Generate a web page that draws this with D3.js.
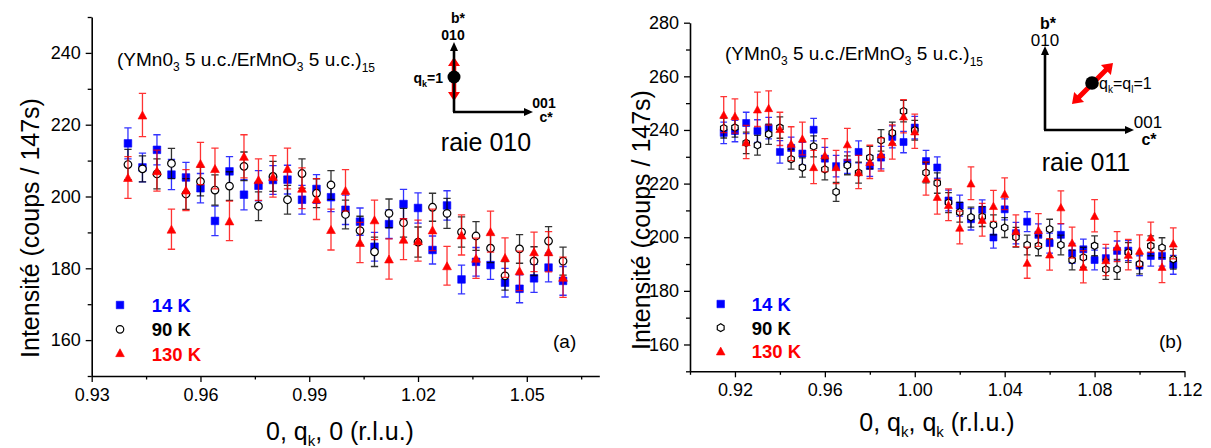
<!DOCTYPE html>
<html><head><meta charset="utf-8">
<script src="https://cdn.jsdelivr.net/npm/d3@7"></script>
<style>
body{margin:0;background:#fff;}
svg{display:block;font-family:"Liberation Sans",Arial,Helvetica,sans-serif;}
</style></head><body>
<svg id="c" width="1211" height="448"></svg>
<script>
// ---------- Panel (a): raie 010, x = 0, qk, 0 ----------
const qA = [0.940,0.944,0.948,0.952,0.956,0.960,0.964,0.968,0.972,0.976,0.980,0.984,0.988,0.992,0.996,1.000,1.004,1.008,1.012,1.016,1.020,1.024,1.028,1.032,1.036,1.040,1.044,1.048,1.052,1.056,1.060];
const a14K  = [214.8,208.1,213.0,206.1,205.3,202.3,193.2,207.0,200.5,203.0,204.6,204.7,199.1,202.1,199.8,196.3,193.0,186.0,192.3,197.9,196.8,185.1,197.5,176.9,181.8,180.9,176.0,174.3,177.2,180.2,176.5];
const a90K  = [208.9,207.7,206.3,209.2,200.7,204.2,201.8,202.9,208.4,197.3,205.6,199.1,206.4,200.9,203.2,195.0,190.5,184.6,195.3,192.7,187.3,197.0,195.3,190.1,189.0,185.6,177.9,185.4,182.0,187.6,182.0];
const a130K = [205.3,222.7,207.2,190.9,201.8,209.2,207.8,193.2,211.2,204.7,205.6,207.8,202.3,199.3,190.8,201.7,187.2,193.5,182.6,188.1,187.7,190.7,180.7,189.3,182.8,190.2,183.0,179.3,184.6,184.6,177.5];
const a14Kerr  = [4.3,4.0,4.2,4.2,4.2,4.1,4.1,4.1,4.2,4.2,4.0,4.0,4.0,4.0,4.0,4.1,3.8,4.0,4.0,4.1,4.2,3.9,4.1,4.0,4.0,4.0,4.0,3.9,3.9,4.0,4.0];
const a90Kerr  = [4.2,3.6,4.2,4.2,4.3,4.0,4.2,4.0,4.0,4.0,4.2,4.0,4.1,4.0,4.0,4.0,4.0,4.1,4.0,4.0,4.2,3.9,4.2,4.2,4.0,4.0,4.0,4.0,4.0,4.0,3.9];
const a130Kerr = [5.8,6.0,5.7,5.6,5.7,5.9,5.7,5.5,6.0,5.8,5.8,5.7,5.7,5.7,5.7,5.8,5.6,5.5,5.6,5.7,5.7,5.8,5.4,5.6,5.6,5.7,5.5,5.5,5.5,5.6,5.6];
const aXTicks = [0.93,0.96,0.99,1.02,1.05];
const aXMinor = [0.945,0.975,1.005,1.035,1.065];
const aYTicks = [160,180,200,220,240];
const aYMinor = [150,170,190,210,230,250];

// ---------- Panel (b): raie 011, x = 0, qk, qk ----------
const qB = [0.915,0.920,0.925,0.930,0.935,0.940,0.945,0.950,0.955,0.960,0.965,0.970,0.975,0.980,0.985,0.990,0.995,1.000,1.005,1.010,1.015,1.020,1.025,1.030,1.035,1.040,1.045,1.050,1.055,1.060,1.065,1.070,1.075,1.080,1.085,1.090,1.095,1.100,1.105,1.110,1.115];
const b14K  = [238.9,239.6,242.6,239.6,240.7,231.8,233.3,231.2,240.1,229.3,226.5,227.8,231.8,226.6,229.7,237.4,235.5,240.9,228.4,226.0,213.7,211.8,206.7,210.2,199.9,210.4,201.5,205.8,200.9,197.8,200.9,194.0,195.5,191.5,192.2,194.9,195.0,189.4,193.0,193.0,189.7];
const b90K  = [240.7,240.9,235.2,234.3,238.4,240.9,229.1,226.0,233.9,225.3,216.9,226.8,224.1,229.7,236.1,238.9,247.0,239.9,224.1,220.2,212.9,209.3,207.5,207.7,204.6,203.6,200.0,197.1,196.8,203.0,197.1,191.5,192.5,196.8,188.0,188.0,194.3,190.0,196.8,196.1,191.8];
const b130K = [245.7,245.2,235.5,247.7,248.2,240.4,234.9,236.8,226.2,230.6,226.2,234.7,224.3,228.1,230.9,235.5,245.1,239.5,221.9,215.1,212.1,203.6,220.1,206.5,211.7,216.2,202.4,190.5,202.7,193.6,211.2,198.0,189.0,208.0,191.5,196.5,193.5,195.0,200.0,189.0,197.7];
const b14Kerr  = [4.0,4.0,4.0,4.2,4.0,4.2,4.0,4.2,4.2,4.2,4.0,4.0,4.1,3.9,4.2,4.1,4.0,4.2,4.0,4.0,3.9,3.9,4.0,3.7,4.0,3.9,4.0,3.7,4.1,3.7,4.1,3.7,3.8,3.7,3.7,3.7,3.7,3.7,3.8,3.8,3.5];
const b90Kerr  = [3.7,3.6,4.0,3.7,3.8,4.0,3.7,3.6,3.9,3.9,3.5,3.5,3.9,4.2,4.0,4.0,4.0,3.7,3.8,3.8,3.7,3.7,3.7,3.7,3.7,3.7,3.7,3.7,3.7,3.7,3.7,3.7,3.7,3.7,3.7,3.7,3.7,3.7,3.7,3.7,3.7];
const b130Kerr = [6.7,6.4,6.2,6.4,6.4,6.2,6.3,6.1,6.2,6.2,6.2,5.9,6.2,6.2,6.2,6.4,6.2,6.4,6.2,6.5,5.9,6.1,6.1,6.1,5.8,5.9,5.9,5.8,6.1,5.9,6.1,5.8,6.0,6.0,5.8,5.6,5.7,5.9,5.6,5.9,5.8];
const bXTicks = [0.92,0.96,1.00,1.04,1.08,1.12];
const bXMinor = [0.90,0.94,0.98,1.02,1.06,1.10];
const bYTicks = [160,180,200,220,240,260,280];
const bYMinor = [150,170,190,210,230,250,270];

const legendLabels = ["14 K","90 K","130 K"];
const BLUE = "#0000ff", RED = "#ff0000", BLACK = "#000000";

const svg = d3.select("#c");

// ---------- marker shapes ----------
function triPath(s){ const w=s*0.55, h=s*0.5; return `M0,${-h}L${w},${h}L${-w},${h}Z`; }
function sqPath(s){ const h=s/2; return `M${-h},${-h}H${h}V${h}H${-h}Z`; }
function hexPath(s){ const r=s/2; let p=""; for(let i=0;i<6;i++){const a=Math.PI/2+i*Math.PI/3; p+=(i?"L":"M")+(r*Math.cos(a)).toFixed(2)+","+(-r*Math.sin(a)).toFixed(2);} return p+"Z"; }
function circPath(s){ const r=s/2; return `M${r},0A${r},${r} 0 1,1 ${-r},0A${r},${r} 0 1,1 ${r},0Z`; }

function drawMarker(g, kind, x, y, s){
  let d, fill, stroke;
  if(kind==="sq"){ d=sqPath(s); fill=BLUE; stroke=BLUE; }
  else if(kind==="tri"){ d=triPath(s*1.05); fill=RED; stroke=RED; }
  else if(kind==="circ"){ d=circPath(s); fill="#fff"; stroke=BLACK; }
  else { d=hexPath(s*1.05); fill="#fff"; stroke=BLACK; }
  g.append("path").attr("d",d).attr("transform",`translate(${x},${y})`)
    .attr("fill",fill).attr("stroke",stroke).attr("stroke-width",kind==="circ"||kind==="hex"?1.2:0.6);
}

function panel(cfg){
  const x = d3.scaleLinear().domain(cfg.xd).range(cfg.xr);
  const y = d3.scaleLinear().domain(cfg.yd).range(cfg.yr);
  const g = svg.append("g");

  // axes
  const gxm = g.append("g").attr("transform",`translate(0,${cfg.yr[0]})`)
    .call(d3.axisBottom(x).tickValues(cfg.xMinor).tickSize(3.5).tickSizeOuter(0).tickFormat(""));
  gxm.select(".domain").remove();
  const gx = g.append("g").attr("transform",`translate(0,${cfg.yr[0]})`)
    .call(d3.axisBottom(x).tickValues(cfg.xTicks).tickSize(6).tickSizeOuter(0).tickPadding(6).tickFormat(d3.format(".2f")));
  const gym = g.append("g").attr("transform",`translate(${cfg.xr[0]},0)`)
    .call(d3.axisLeft(y).tickValues(cfg.yMinor).tickSize(4).tickSizeOuter(0).tickFormat(""));
  gym.select(".domain").remove();
  const gy = g.append("g").attr("transform",`translate(${cfg.xr[0]},0)`)
    .call(d3.axisLeft(y).tickValues(cfg.yTicks).tickSize(6).tickSizeOuter(0).tickPadding(5).tickFormat(d3.format("d")));
  g.selectAll(".domain").attr("stroke","#000").attr("stroke-width",1.6);
  g.selectAll(".tick line").attr("stroke","#000").attr("stroke-width",1.3);
  g.selectAll(".tick text").attr("font-size",18).attr("fill","#000").attr("font-family",'"Liberation Sans",Arial,sans-serif');

  // data
  const cap = cfg.cap;
  cfg.series.forEach(s=>{
    const sg = g.append("g");
    cfg.q.forEach((q,i)=>{
      const cx=x(q), v=s.v[i], e=s.e[i];
      const y1=y(v+e), y2=y(v-e);
      sg.append("path").attr("d",`M${cx},${y1}V${y2}M${cx-cap/2},${y1}H${cx+cap/2}M${cx-cap/2},${y2}H${cx+cap/2}`)
        .attr("stroke",s.col).attr("stroke-width",1.3).attr("stroke-opacity",0.8).attr("fill","none");
    });
    cfg.q.forEach((q,i)=> drawMarker(sg, s.m, x(q), y(s.v[i]), cfg.ms));
  });

  // legend
  cfg.series.forEach((s,i)=>{
    drawMarker(g, s.m, cfg.leg.mx, cfg.leg.my[i], 7.5);
    g.append("text").attr("x",cfg.leg.tx).attr("y",cfg.leg.ty[i]).attr("font-size",18.5)
      .attr("font-weight","bold").attr("fill",s.col).text(legendLabels[i]);
  });
  g.append("text").attr("x",cfg.tag.x).attr("y",cfg.tag.y).attr("font-size",19).attr("fill","#000").text(cfg.tag.t);

  // axis titles
  const xt = g.append("text").attr("x",cfg.xtitle.x).attr("y",cfg.xtitle.y).attr("text-anchor","middle").attr("font-size",25).attr("fill","#000");
  cfg.xtitle.parts.forEach(p=>{ const t=xt.append("tspan").text(p[0]); if(p[1]) t.attr("font-size",15).attr("dy",6); else t.attr("dy",p[2]||0); });
  g.append("text").attr("transform",`translate(${cfg.ytitle.x},${cfg.ytitle.y}) rotate(-90)`)
    .attr("text-anchor","middle").attr("font-size",25).attr("fill","#000").text("Intensité (coups / 147s)");

  // compound label
  const ct = g.append("text").attr("x",cfg.comp.x).attr("y",cfg.comp.y).attr("font-size",19).attr("fill","#000");
  ct.append("tspan").text("(YMn0");
  ct.append("tspan").attr("font-size",12).attr("dy",5).text("3");
  ct.append("tspan").attr("dy",-5).text(" 5 u.c./ErMnO");
  ct.append("tspan").attr("font-size",12).attr("dy",5).text("3");
  ct.append("tspan").attr("dy",-5).text(" 5 u.c.)");
  ct.append("tspan").attr("font-size",12).attr("dy",6).text("15");
  return g;
}

const pa = panel({
  q:qA, xd:[0.93,1.07], xr:[91.7,599.3], yd:[150,250], yr:[376,17],
  xTicks:aXTicks, xMinor:aXMinor, yTicks:aYTicks, yMinor:aYMinor, cap:7.3, ms:7.6,
  series:[{v:a14K,e:a14Kerr,col:BLUE,m:"sq"},{v:a90K,e:a90Kerr,col:BLACK,m:"circ"},{v:a130K,e:a130Kerr,col:RED,m:"tri"}],
  leg:{mx:120, my:[305,329.3,352.7], tx:151.7, ty:[311.5,336,360.5]},
  tag:{x:553,y:348,t:"(a)"},
  xtitle:{x:340,y:440,parts:[["0, q"],["k",1],[", 0 (r.l.u.)",0,-6]]},
  ytitle:{x:39,y:228},
  comp:{x:117,y:66}
});
const pb = panel({
  q:qB, xd:[0.90,1.12], xr:[690,1184.5], yd:[150,280], yr:[371.3,22.7],
  xTicks:bXTicks, xMinor:bXMinor, yTicks:bYTicks, yMinor:bYMinor, cap:6.7, ms:7,
  series:[{v:b14K,e:b14Kerr,col:BLUE,m:"sq"},{v:b90K,e:b90Kerr,col:BLACK,m:"hex"},{v:b130K,e:b130Kerr,col:RED,m:"tri"}],
  leg:{mx:720.7, my:[304,327.7,351], tx:751.7, ty:[310.5,334.5,358]},
  tag:{x:1159,y:348,t:"(b)"},
  xtitle:{x:937,y:431,parts:[["0, q"],["k",1],[", q",0,-6],["k",1],[" (r.l.u.)",0,-6]]},
  ytitle:{x:650,y:220},
  comp:{x:725,y:60}
});

// ---------- insets ----------
function fatArrow(x1,y1,x2,y2,sw,hw,hl){
  const dx=x2-x1, dy=y2-y1, L=Math.hypot(dx,dy), ux=dx/L, uy=dy/L, nx=-uy, ny=ux;
  const P=(t,n)=>[x1+ux*t+nx*n, y1+uy*t+ny*n];
  const pts=[P(0,0),P(hl,hw/2),P(hl,sw/2),P(L-hl,sw/2),P(L-hl,hw/2),P(L,0),P(L-hl,-hw/2),P(L-hl,-sw/2),P(hl,-sw/2),P(hl,-hw/2)];
  return "M"+pts.map(p=>p[0].toFixed(2)+","+p[1].toFixed(2)).join("L")+"Z";
}
function blackArrow(x1,y1,x2,y2){
  const dx=x2-x1, dy=y2-y1, L=Math.hypot(dx,dy), ux=dx/L, uy=dy/L, nx=-uy, ny=ux;
  const hl=9, hw=8;
  svg.append("line").attr("x1",x1).attr("y1",y1).attr("x2",x2-ux*hl*0.8).attr("y2",y2-uy*hl*0.8)
    .attr("stroke","#000").attr("stroke-width",2.6);
  const bx=x2-ux*hl, by=y2-uy*hl;
  svg.append("path").attr("d",`M${x2},${y2}L${bx+nx*hw/2},${by+ny*hw/2}L${bx-nx*hw/2},${by-ny*hw/2}Z`).attr("fill","#000");
}
function lbl(x,y,t,fs,bold,anchor){
  return svg.append("text").attr("x",x).attr("y",y).attr("font-size",fs).attr("font-weight",bold?"bold":"normal")
    .attr("text-anchor",anchor||"middle").attr("fill","#000").text(t);
}
// left inset
svg.append("path").attr("d",fatArrow(454,57,454,101,4.5,12,9)).attr("fill",RED);
blackArrow(454,112,454,42);
blackArrow(453,112,533,112);
svg.append("circle").attr("cx",454).attr("cy",77).attr("r",6.5).attr("fill","#000");
lbl(458,23,"b*",14,true);
lbl(453,40,"010",14,true);
lbl(544,108,"001",14,true);
lbl(546,122,"c*",14,true);
const qk = svg.append("text").attr("x",443).attr("y",83).attr("font-size",14).attr("font-weight","bold").attr("text-anchor","end").attr("fill","#000");
qk.append("tspan").text("q"); qk.append("tspan").attr("font-size",9).attr("dy",4).text("k"); qk.append("tspan").attr("dy",-4).text("=1");
lbl(486,151,"raie 010",25,false);

// right inset
svg.append("path").attr("d",fatArrow(1072,104,1113,63,5,14,10)).attr("fill",RED);
blackArrow(1045,130,1045,46);
blackArrow(1044,130,1134,130);
svg.append("circle").attr("cx",1092).attr("cy",83).attr("r",6.8).attr("fill","#000");
lbl(1048,29,"b*",16,true);
lbl(1045,46,"010",17,false);
lbl(1148,128,"001",17,false);
lbl(1149,145,"c*",16,true);
const qkl = svg.append("text").attr("x",1099).attr("y",89).attr("font-size",16).attr("fill","#000");
qkl.append("tspan").text("q"); qkl.append("tspan").attr("font-size",10).attr("dy",4).text("k");
qkl.append("tspan").attr("dy",-4).text("=q"); qkl.append("tspan").attr("font-size",10).attr("dy",4).text("l");
qkl.append("tspan").attr("dy",-4).text("=1");
lbl(1086,171,"raie 011",25,false);
</script>
</body></html>
